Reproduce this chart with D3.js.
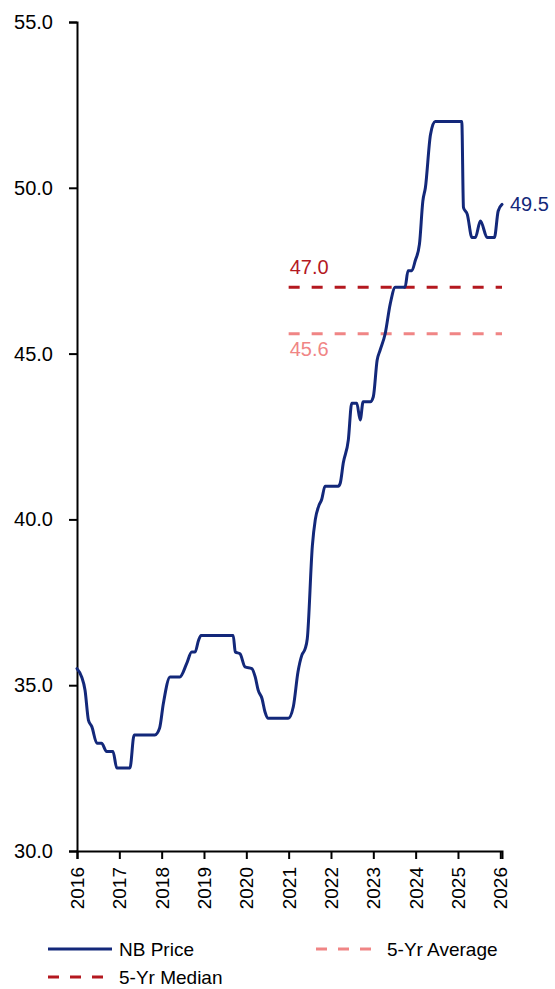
<!DOCTYPE html>
<html>
<head>
<meta charset="utf-8">
<script src="https://cdn.jsdelivr.net/npm/d3@7"></script>
<style>
  html, body { margin: 0; padding: 0; background: #fff; }
  svg { display: block; font-family: "Liberation Sans", Arial, sans-serif; }
</style>
</head>
<body>
<svg id="chart" width="555" height="989"></svg>
<script>
// NB price history (decimal year, price)
const priceYears = [
  2016.00, 2016.11, 2016.19, 2016.27, 2016.35, 2016.47, 2016.58, 2016.70, 2016.85, 2016.94,
  2017.25, 2017.35, 2017.84, 2017.95, 2018.04, 2018.20, 2018.43, 2018.59, 2018.71, 2018.79,
  2018.87, 2018.93, 2019.69, 2019.74, 2019.85, 2019.97, 2020.13, 2020.21, 2020.28, 2020.37,
  2020.44, 2020.52, 2020.99, 2021.11, 2021.22, 2021.31, 2021.39, 2021.44, 2021.56, 2021.63,
  2021.71, 2021.78, 2021.86, 2022.17, 2022.22, 2022.29, 2022.41, 2022.49, 2022.61, 2022.69,
  2022.76, 2022.93, 2023.00, 2023.09, 2023.16, 2023.28, 2023.40, 2023.52, 2023.75, 2023.82,
  2023.91, 2023.99, 2024.09, 2024.17, 2024.23, 2024.35, 2024.46, 2025.09, 2025.13, 2025.22,
  2025.33, 2025.41, 2025.53, 2025.69, 2025.86, 2025.95, 2026.04
];
const priceValues = [
  35.5, 35.25, 34.85, 33.95, 33.75, 33.25, 33.25, 33.0, 33.0, 32.5,
  32.5, 33.5, 33.5, 33.7, 34.45, 35.25, 35.25, 35.65, 36.0, 36.0,
  36.35, 36.5, 36.5, 36.0, 35.95, 35.55, 35.5, 35.25, 34.85, 34.6,
  34.2, 34.0, 34.0, 34.35, 35.4, 35.9, 36.1, 36.4, 39.2, 40.0,
  40.4, 40.6, 41.0, 41.0, 41.1, 41.7, 42.4, 43.5, 43.5, 43.0,
  43.55, 43.55, 43.7, 44.8, 45.1, 45.6, 46.5, 47.0, 47.0, 47.5,
  47.5, 47.8, 48.3, 49.6, 50.0, 51.6, 52.0, 52.0, 49.4, 49.2,
  48.5, 48.5, 49.0, 48.5, 48.5, 49.3, 49.5
];

// Five-year reference levels
const refStart = 2021;
const medianValue = 47.0;
const averageValue = 45.6;

// Axis ticks
const yTicks = [30, 35, 40, 45, 50, 55];
const xTicks = [2016, 2017, 2018, 2019, 2020, 2021, 2022, 2023, 2024, 2025, 2026];

// Legend entries
const legendLabels = ["NB Price", "5-Yr Median", "5-Yr Average"];

const colors = { price: "#13287a", median: "#b4181f", average: "#f08585" };

const svg = d3.select("#chart");
const margin = { left: 77, top: 22, right: 53, bottom: 138 };
const W = 555, H = 989;

const lastYear = priceYears[priceYears.length - 1];
const x = d3.scaleLinear().domain([2016, lastYear]).range([margin.left, W - margin.right]);
const y = d3.scaleLinear().domain([30, 55]).range([H - margin.bottom, margin.top]);

const data = priceYears.map((t, i) => ({ t, v: priceValues[i] }));

// Y axis
const yAxis = svg.append("g")
  .attr("transform", `translate(${margin.left},0)`)
  .call(d3.axisLeft(y).tickValues(yTicks).tickFormat(d3.format(".1f")).tickSizeOuter(0).tickSize(8).tickPadding(16));
yAxis.selectAll("text").style("font-size", "20px").attr("fill", "#000");
yAxis.selectAll("line, path").attr("stroke", "#000").attr("stroke-width", 2);

// X axis
const xAxis = svg.append("g")
  .attr("transform", `translate(0,${y(30)})`)
  .call(d3.axisBottom(x).tickValues(xTicks).tickFormat(d3.format("d")).tickSizeOuter(0).tickSize(8));
xAxis.selectAll("line, path").attr("stroke", "#000").attr("stroke-width", 2);
xAxis.selectAll("text")
  .style("font-size", "19px")
  .attr("fill", "#000")
  .attr("transform", "rotate(-90)")
  .attr("text-anchor", "end")
  .attr("x", -16)
  .attr("y", 0)
  .attr("dy", "0.35em");

// Reference lines
svg.append("line")
  .attr("x1", x(refStart)).attr("x2", x(lastYear))
  .attr("y1", y(medianValue)).attr("y2", y(medianValue))
  .attr("stroke", colors.median).attr("stroke-width", 3)
  .attr("stroke-dasharray", "11,12");
svg.append("line")
  .attr("x1", x(refStart)).attr("x2", x(lastYear))
  .attr("y1", y(averageValue)).attr("y2", y(averageValue))
  .attr("stroke", colors.average).attr("stroke-width", 3)
  .attr("stroke-dasharray", "11,12");

svg.append("text")
  .attr("x", x(refStart) + 1).attr("y", y(medianValue) - 13)
  .attr("fill", colors.median).style("font-size", "20px")
  .text(d3.format(".1f")(medianValue));
svg.append("text")
  .attr("x", x(refStart) + 1).attr("y", y(averageValue) + 22)
  .attr("fill", colors.average).style("font-size", "20px")
  .text(d3.format(".1f")(averageValue));

// Price line
const line = d3.line().x(d => x(d.t)).y(d => y(d.v)).curve(d3.curveMonotoneX);
svg.append("path")
  .datum(data)
  .attr("fill", "none")
  .attr("stroke", colors.price)
  .attr("stroke-width", 3)
  .attr("stroke-linejoin", "round")
  .attr("stroke-linecap", "round")
  .attr("d", line);

const last = data[data.length - 1];
svg.append("text")
  .attr("x", x(last.t) + 8).attr("y", y(last.v))
  .attr("dy", "0.35em")
  .attr("fill", colors.price).style("font-size", "20px")
  .text(d3.format(".1f")(last.v));

// Legend
const legend = svg.append("g");
const legendItems = [
  { label: legendLabels[0], color: colors.price, dash: null, x: 48, y: 949, len: 64 },
  { label: legendLabels[1], color: colors.median, dash: "11,11", x: 48, y: 977, len: 56 },
  { label: legendLabels[2], color: colors.average, dash: "11,11", x: 316, y: 949, len: 56 }
];
legendItems.forEach(it => {
  legend.append("line")
    .attr("x1", it.x).attr("x2", it.x + it.len)
    .attr("y1", it.y).attr("y2", it.y)
    .attr("stroke", it.color).attr("stroke-width", 3)
    .attr("stroke-dasharray", it.dash);
  legend.append("text")
    .attr("x", it.x + 71).attr("y", it.y)
    .attr("dy", "0.35em")
    .style("font-size", "19px")
    .attr("fill", "#000")
    .text(it.label);
});
</script>
</body>
</html>
